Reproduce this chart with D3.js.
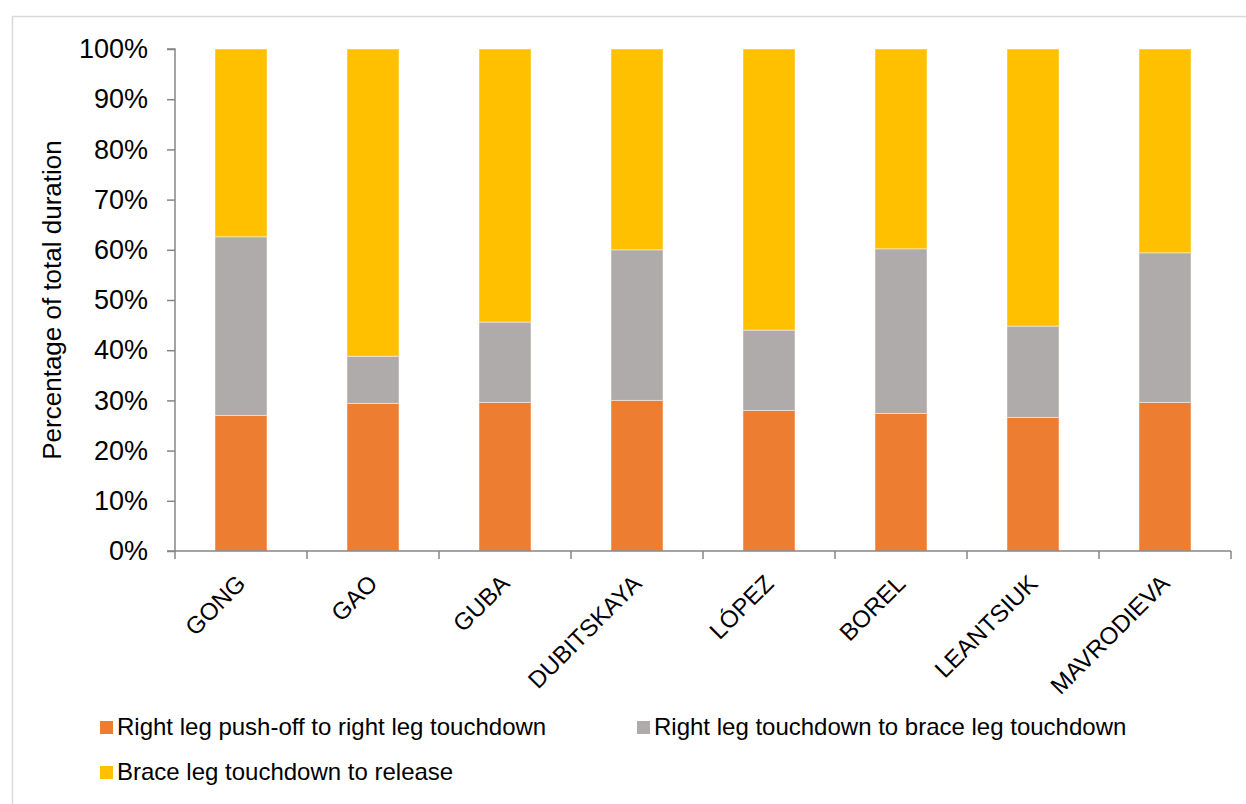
<!DOCTYPE html>
<html><head><meta charset="utf-8">
<script src="https://cdn.jsdelivr.net/npm/d3@7"></script>
<style>
html,body{margin:0;padding:0;background:#fff;}
svg{display:block;font-family:"Liberation Sans",Arial,sans-serif;}
</style></head>
<body>
<svg id="chart" width="1246" height="804"></svg>
<script>
const categories = ["GONG","GAO","GUBA","DUBITSKAYA","LÓPEZ","BOREL","LEANTSIUK","MAVRODIEVA"];
const seriesNames = ["Right leg push-off to right leg touchdown","Right leg touchdown to brace leg touchdown","Brace leg touchdown to release"];
const pushOff   = [27.0, 29.4, 29.6, 30.0, 28.0, 27.4, 26.6, 29.6];
const touchdown = [35.6,  9.4, 16.0, 30.0, 16.0, 32.8, 18.2, 29.8];
const brace     = [37.4, 61.2, 54.4, 40.0, 56.0, 39.8, 55.2, 40.6];
const yTicks = [0,10,20,30,40,50,60,70,80,90,100];
const colors = ["#ED7D31","#AFABAB","#FFC000"];

(function(){
const svg = d3.select("#chart");
svg.append("rect").attr("x",12.5).attr("y",16.5).attr("width",1260).attr("height",820)
  .attr("fill","none").attr("stroke","#d9d9d9").attr("stroke-width",1.5);

const pL=175, pR=1231, pT=49, pB=551;
const x = d3.scaleBand().domain(categories).range([pL,pR]).paddingInner(0.606).paddingOuter(0.303);
const y = d3.scaleLinear().domain([0,100]).range([pB,pT]);

const rows = categories.map((c,i)=>({cat:c, s0:pushOff[i], s1:touchdown[i], s2:brace[i]}));
const stack = d3.stack().keys(["s0","s1","s2"])(rows);

svg.append("g").selectAll("g").data(stack).join("g")
  .attr("fill",(d,i)=>colors[i])
  .selectAll("rect").data(d=>d).join("rect")
  .attr("x",d=>x(d.data.cat)).attr("width",x.bandwidth())
  .attr("y",d=>y(d[1])).attr("height",d=>y(d[0])-y(d[1]))
  .attr("stroke","rgba(255,255,255,0.45)").attr("stroke-width",1);

const yAxis = d3.axisLeft(y).tickValues(yTicks).tickFormat(d=>d+"%").tickSize(8).tickPadding(19);
const ya = svg.append("g").attr("transform",`translate(${pL},0)`).call(yAxis);
ya.selectAll("path,line").attr("stroke","#868686").attr("stroke-width",1.5);
ya.select(".domain").attr("d",`M-8,${pT}H0V${pB}H-8`);
ya.selectAll("text").attr("font-size",27).attr("fill","#000").attr("font-family","Liberation Sans, Arial, sans-serif");

const xa = svg.append("g").attr("transform",`translate(0,${pB})`);
xa.append("line").attr("x1",pL).attr("x2",pR).attr("y1",0).attr("y2",0).attr("stroke","#868686").attr("stroke-width",1.5);
const step = x.step();
xa.selectAll(".tk").data(d3.range(categories.length+1)).join("line").attr("class","tk")
  .attr("x1",i=>pL+i*step).attr("x2",i=>pL+i*step).attr("y1",0).attr("y2",8)
  .attr("stroke","#868686").attr("stroke-width",1.5);
xa.selectAll(".lbl").data(categories).join("text").attr("class","lbl")
  .attr("transform",d=>`translate(${x(d)+x.bandwidth()/2-6},${22}) rotate(-45)`)
  .attr("text-anchor","end").attr("dy","0.71em")
  .attr("font-size",24).attr("fill","#000").text(d=>d);

svg.append("text").attr("transform",`translate(61,${(pT+pB)/2}) rotate(-90)`)
  .attr("text-anchor","middle").attr("font-size",26).attr("fill","#000")
  .text("Percentage of total duration");

const legendPos = [[100,735],[637,735],[100,780]];
const lg = svg.append("g").selectAll("g").data(seriesNames).join("g")
  .attr("transform",(d,i)=>`translate(${legendPos[i][0]},${legendPos[i][1]})`);
lg.append("rect").attr("x",0).attr("y",-14).attr("width",13).attr("height",13).attr("fill",(d,i)=>colors[i]);
lg.append("text").attr("x",17).attr("y",0).attr("font-size",24).attr("fill","#000").text(d=>d);
})();
</script>
</body></html>
